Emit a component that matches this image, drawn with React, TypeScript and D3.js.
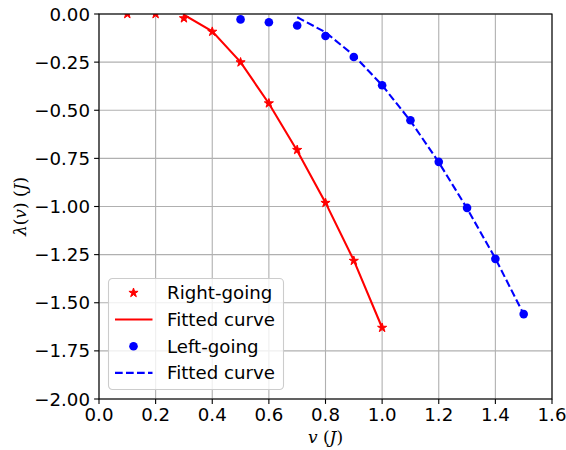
import { useEffect, useRef } from "react";
import * as d3 from "d3";

// right-going (stars) and its fit
const rightV = [0.1, 0.2, 0.3, 0.4, 0.5, 0.6, 0.7, 0.8, 0.9, 1.0];
const rightLam = [0.0, 0.0, -0.022, -0.092, -0.251, -0.464, -0.706, -0.981, -1.282, -1.63];
const rightFitV = [0.3, 0.4, 0.5, 0.6, 0.7, 0.8, 0.9, 1.0];
const rightFitLam = [-0.004, -0.09, -0.25, -0.465, -0.71, -0.98, -1.28, -1.63];

// left-going (dots) and its fit
const leftV = [0.5, 0.6, 0.7, 0.8, 0.9, 1.0, 1.1, 1.2, 1.3, 1.4, 1.5];
const leftLam = [-0.028, -0.043, -0.06, -0.114, -0.223, -0.37, -0.552, -0.768, -1.007, -1.272, -1.559];
const leftFitV = [0.7, 0.8, 0.9, 1.0, 1.1, 1.2, 1.3, 1.4, 1.5];
const leftFitLam = [-0.017, -0.095, -0.215, -0.37, -0.555, -0.77, -1.01, -1.27, -1.56];

const xTicks = [0, 0.2, 0.4, 0.6, 0.8, 1.0, 1.2, 1.4, 1.6];
const yTicks = [0, -0.25, -0.5, -0.75, -1.0, -1.25, -1.5, -1.75, -2.0];

const legendLabels = ["Right-going", "Fitted curve", "Left-going", "Fitted curve"];

export default function App() {
  const svgRef = useRef<SVGSVGElement>(null);
  const width = 566;
  const height = 450;

  useEffect(() => {
    const svg = d3.select(svgRef.current);
    svg.selectAll("*").remove();

    const margin = { top: 14, right: 14, bottom: 51, left: 99 };
    const innerWidth = width - margin.left - margin.right;
    const innerHeight = height - margin.top - margin.bottom;
    const font = "DejaVu Sans, sans-serif";
    const fs = 18.2;

    const x = d3.scaleLinear().domain([0, 1.6]).range([0, innerWidth]);
    const y = d3.scaleLinear().domain([-2, 0]).range([innerHeight, 0]);

    svg.append("defs").append("clipPath").attr("id", "plotclip")
      .append("rect").attr("width", innerWidth).attr("height", innerHeight);

    const g = svg.append("g").attr("transform", `translate(${margin.left},${margin.top})`);

    // grid
    g.append("g").selectAll("line").data(xTicks).join("line")
      .attr("x1", d => x(d)).attr("x2", d => x(d))
      .attr("y1", 0).attr("y2", innerHeight)
      .attr("stroke", "#b0b0b0").attr("stroke-width", 1.1);
    g.append("g").selectAll("line").data(yTicks).join("line")
      .attr("y1", d => y(d)).attr("y2", d => y(d))
      .attr("x1", 0).attr("x2", innerWidth)
      .attr("stroke", "#b0b0b0").attr("stroke-width", 1.1);

    const plot = g.append("g").attr("clip-path", "url(#plotclip)");

    const line = d3.line<[number, number]>().x(d => x(d[0])).y(d => y(d[1]));

    plot.append("path")
      .datum(rightFitV.map((v, i) => [v, rightFitLam[i]] as [number, number]))
      .attr("fill", "none").attr("stroke", "#ff0000").attr("stroke-width", 2.1)
      .attr("d", line);

    plot.append("path")
      .datum(leftFitV.map((v, i) => [v, leftFitLam[i]] as [number, number]))
      .attr("fill", "none").attr("stroke", "#0000ff").attr("stroke-width", 2.1)
      .attr("stroke-dasharray", "7.7,3.3")
      .attr("d", line);

    const star = d3.symbol(d3.symbolStar, 26);
    plot.append("g").selectAll("path").data(rightV).join("path")
      .attr("transform", (d, i) => `translate(${x(d)},${y(rightLam[i])})`)
      .attr("d", star()).attr("fill", "#ff0000").attr("stroke", "#ff0000").attr("stroke-width", 1);

    plot.append("g").selectAll("circle").data(leftV).join("circle")
      .attr("cx", d => x(d)).attr("cy", (d, i) => y(leftLam[i]))
      .attr("r", 4.3).attr("fill", "#0000ff");

    // spines
    g.append("rect").attr("width", innerWidth).attr("height", innerHeight)
      .attr("fill", "none").attr("stroke", "#000").attr("stroke-width", 1.1);

    // x axis ticks
    const xa = g.append("g").attr("transform", `translate(0,${innerHeight})`);
    xa.selectAll("line").data(xTicks).join("line")
      .attr("x1", d => x(d)).attr("x2", d => x(d)).attr("y1", 0).attr("y2", 4.9)
      .attr("stroke", "#000").attr("stroke-width", 1.1);
    xa.selectAll("text").data(xTicks).join("text")
      .attr("x", d => x(d)).attr("y", 22.4)
      .attr("text-anchor", "middle").attr("font-family", font).attr("font-size", fs)
      .text(d => d3.format(".1f")(d));

    // y axis ticks
    const ya = g.append("g");
    ya.selectAll("line").data(yTicks).join("line")
      .attr("y1", d => y(d)).attr("y2", d => y(d)).attr("x1", 0).attr("x2", -4.9)
      .attr("stroke", "#000").attr("stroke-width", 1.1);
    ya.selectAll("text").data(yTicks).join("text")
      .attr("x", -9).attr("y", d => y(d)).attr("dy", "0.36em")
      .attr("text-anchor", "end").attr("font-family", font).attr("font-size", fs)
      .text(d => d3.format(".2f")(d).replace("-", "\u2212"));

    // axis labels
    const serif = "DejaVu Serif, serif";
    const xl = svg.append("text")
      .attr("x", margin.left + x(0.8)).attr("y", 443)
      .attr("text-anchor", "middle").attr("font-family", serif).attr("font-size", 17);
    xl.append("tspan").attr("font-style", "italic").text("v");
    xl.append("tspan").text(" (");
    xl.append("tspan").attr("font-style", "italic").text("J");
    xl.append("tspan").text(")");

    const yl = svg.append("text")
      .attr("transform", `translate(26,${margin.top + innerHeight / 2}) rotate(-90)`)
      .attr("text-anchor", "middle").attr("font-family", serif).attr("font-size", 17);
    yl.append("tspan").attr("font-style", "italic").text("λ");
    yl.append("tspan").text("(");
    yl.append("tspan").attr("font-style", "italic").text("v");
    yl.append("tspan").text(") (");
    yl.append("tspan").attr("font-style", "italic").text("J");
    yl.append("tspan").text(")");

    // legend
    const lg = svg.append("g").attr("transform", "translate(108.5,278.5)");
    lg.append("rect").attr("width", 175).attr("height", 111).attr("rx", 4)
      .attr("fill", "#fff").attr("fill-opacity", 0.8)
      .attr("stroke", "#cccccc").attr("stroke-width", 1.1);
    const rowY = (i: number) => 14.3 + i * 26.7;
    legendLabels.forEach((label, i) => {
      const ry = rowY(i);
      if (i === 0) {
        lg.append("path").attr("transform", `translate(25,${ry})`).attr("d", star())
          .attr("fill", "#ff0000").attr("stroke", "#ff0000").attr("stroke-width", 1);
      } else if (i === 1) {
        lg.append("line").attr("x1", 6.5).attr("x2", 44).attr("y1", ry).attr("y2", ry)
          .attr("stroke", "#ff0000").attr("stroke-width", 2.1);
      } else if (i === 2) {
        lg.append("circle").attr("cx", 25).attr("cy", ry).attr("r", 4.3).attr("fill", "#0000ff");
      } else {
        lg.append("line").attr("x1", 6.5).attr("x2", 44).attr("y1", ry).attr("y2", ry)
          .attr("stroke", "#0000ff").attr("stroke-width", 2.1).attr("stroke-dasharray", "7.7,3.3");
      }
      lg.append("text").attr("x", 58.5).attr("y", ry).attr("dy", "0.36em")
        .attr("font-family", font).attr("font-size", fs).text(label);
    });
  }, []);

  return (
    <svg ref={svgRef} width={width} height={height}
      style={{ position: "absolute", left: 0, top: 0, background: "#fff" }} />
  );
}
